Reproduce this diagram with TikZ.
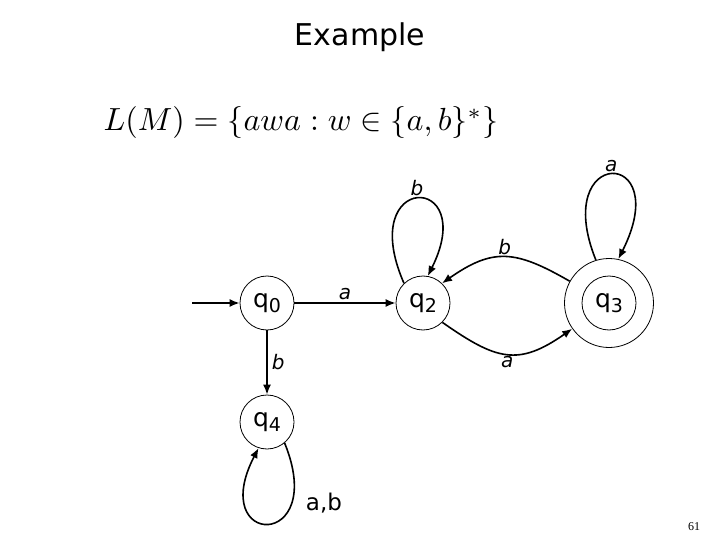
\documentclass[tikz,border=0pt]{standalone}
\usepackage{fontspec}
\setsansfont{DejaVu Sans}
\newfontfamily\numfont{Liberation Serif}
\usetikzlibrary{arrows.meta}

\tikzset{
  statenode/.style={draw, circle, line width=0.8pt, minimum size=54pt, inner sep=0pt,
    font=\sffamily\fontsize{25}{25}\selectfont},
  trans/.style={line width=1.6pt, -{Latex[length=10pt,width=8pt]}},
  lbl/.style={font=\sffamily\slshape\fontsize{20}{20}\selectfont, inner sep=2pt},
}
\newcommand{\qsub}[1]{q\raisebox{-5pt}{\fontsize{19}{19}\selectfont #1}}

\begin{document}
\begin{tikzpicture}[x=1pt, y=-1pt]
    % Frame
    \useasboundingbox (0,0) rectangle (720,540);

    % Title and language
    \node[font=\sffamily\fontsize{30}{30}\selectfont] (title) at (360,37) {Example};
    \node[scale=3.2] (lang) at (301,123) {$L(M) = \{awa : w \in \{a,b\}^*\}$};

    % States
    \node[statenode] (q0) at (267,303) {\qsub{0}};
    \node[statenode] (q2) at (423,303) {\qsub{2}};
    \node[statenode, minimum size=89pt] (q3) at (609,303) {};
    \node[statenode] (q3in) at (q3) {\qsub{3}};
    \node[statenode] (q4) at (267,422) {\qsub{4}};
    \coordinate (start) at (192,303);

    % Transitions
    \draw[trans] (start) -- (q0);
    \draw[trans] (q0) -- node[lbl, above] (la) {a} (q2);
    \draw[trans] (q0) -- node[lbl, right, inner sep=4pt] (lb) {b} (q4);
    \draw[trans] (q2.-45) to[out=-35, in=215, looseness=1.3] node[lbl, below] (l23) {a} (q3.215);
    \draw[trans] (q3.151) to[out=150, in=35, looseness=1.25] node[lbl, above] (l32) {b} (q2.46);

    % Self loops
    \draw[trans] (q2.134) .. controls +(-49,-112) and +(52,-104) .. node[lbl, above] (l22) {b} (q2.80);
    \draw[trans] (q3.107) .. controls +(-46,-114) and +(57,-113) .. node[lbl, above] (l33) {a} (q3.78);
    \draw[trans] (q4.-50) .. controls +(44,108) and +(-52,100) ..
        node[pos=0.25, right=10pt, font=\sffamily\fontsize{23}{23}\selectfont] (l44) {a,b} (q4.-108);

    % Page number
    \node[font=\numfont\fontsize{12}{12}\selectfont] (page) at (694,527) {61};
\end{tikzpicture}
\end{document}
